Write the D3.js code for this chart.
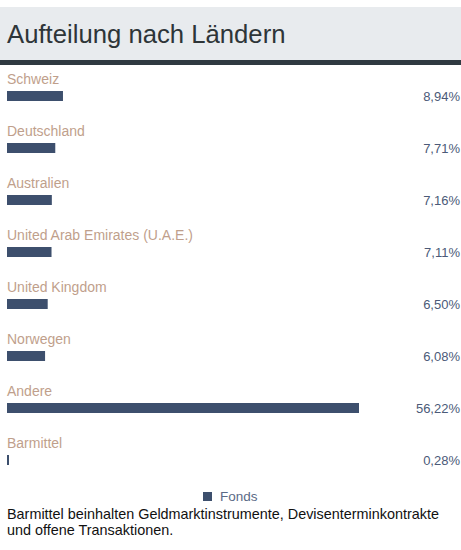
<!DOCTYPE html>
<html lang="de">
	<head>
		<meta charset="utf-8">
		<title>Aufteilung nach Ländern</title>
		<script type="text/javascript" src="https://cdn.jsdelivr.net/npm/d3@7"></script>
		<style type="text/css">
			body { margin: 0; background: #fff; }
		</style>
	</head>
	<body>
		<script type="text/javascript">

			//Data
			var countries = ["Schweiz", "Deutschland", "Australien", "United Arab Emirates (U.A.E.)",
							 "United Kingdom", "Norwegen", "Andere", "Barmittel"];
			var values = [8.94, 7.71, 7.16, 7.11, 6.50, 6.08, 56.22, 0.28];
			var seriesName = "Fonds";
			var title = "Aufteilung nach Ländern";
			var footnote = ["Barmittel beinhalten Geldmarktinstrumente, Devisenterminkontrakte",
							"und offene Transaktionen."];

			//Width and height
			var w = 461;
			var h = 550;
			var font = "'Liberation Sans', Arial, sans-serif";

			var xScale = d3.scaleLinear()
							.domain([0, d3.max(values)])
							.range([7, 359]);

			var yScale = d3.scaleBand()
							.domain(d3.range(countries.length))
							.range([66, 482]);

			var fmt = function(d) {
				return d3.format(".2f")(d).replace(".", ",") + "%";
			};

			var svg = d3.select("body")
						.append("svg")
						.attr("width", w)
						.attr("height", h);

			//Header
			svg.append("rect")
			   .attr("x", 0).attr("y", 7)
			   .attr("width", w).attr("height", 54)
			   .attr("fill", "#e8ebee");
			svg.append("rect")
			   .attr("x", 0).attr("y", 60)
			   .attr("width", w).attr("height", 5)
			   .attr("fill", "#2f3a41");
			svg.append("text")
			   .text(title)
			   .attr("x", 7).attr("y", 43)
			   .attr("font-family", font)
			   .attr("font-size", "25.7px")
			   .attr("fill", "#2e3538");

			var rows = svg.selectAll("g.row")
						  .data(values)
						  .enter()
						  .append("g")
						  .attr("class", "row")
						  .attr("transform", function(d, i) {
						  	return "translate(0," + yScale(i) + ")";
						  });

			//Labels
			rows.append("text")
				.text(function(d, i) { return countries[i]; })
				.attr("x", 7)
				.attr("y", 18)
				.attr("font-family", font)
				.attr("font-size", "14px")
				.attr("fill", "#bf9f8c");

			//Bars
			rows.append("rect")
				.attr("x", xScale(0))
				.attr("y", 25)
				.attr("width", function(d) { return Math.max(2, xScale(d) - xScale(0)); })
				.attr("height", 10)
				.attr("fill", "#3d4f6d");

			//Values
			rows.append("text")
				.text(fmt)
				.attr("x", 460)
				.attr("y", 35)
				.attr("text-anchor", "end")
				.attr("font-family", font)
				.attr("font-size", "13px")
				.attr("fill", "#4b5a78");

			//Legend
			svg.append("rect")
			   .attr("x", 203).attr("y", 492)
			   .attr("width", 9).attr("height", 9)
			   .attr("fill", "#3d4f6d");
			svg.append("text")
			   .text(seriesName)
			   .attr("x", 220).attr("y", 501)
			   .attr("font-family", font)
			   .attr("font-size", "13.5px")
			   .attr("fill", "#5b6a86");

			//Footnote
			svg.selectAll("text.note")
			   .data(footnote)
			   .enter()
			   .append("text")
			   .attr("class", "note")
			   .text(function(d) { return d; })
			   .attr("x", 7)
			   .attr("y", function(d, i) { return 518.5 + i * 16.5; })
			   .attr("font-family", font)
			   .attr("font-size", "14.4px")
			   .attr("fill", "#111");

		</script>
	</body>
</html>
